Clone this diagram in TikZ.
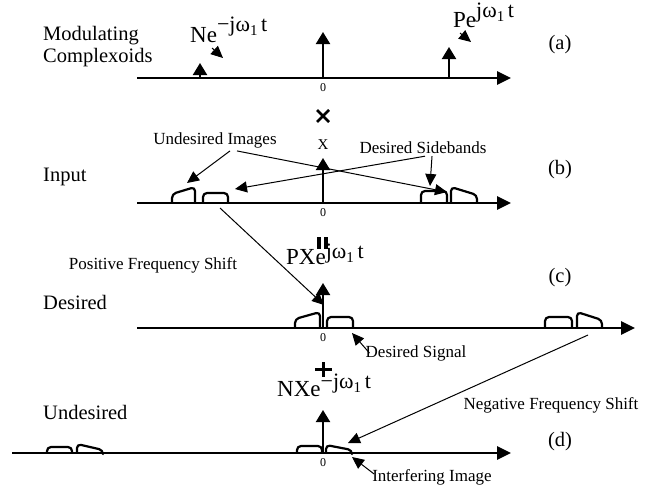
\documentclass[tikz,border=0pt]{standalone}
\usepackage{fontspec}
\setmainfont{Liberation Serif}
\usetikzlibrary{arrows.meta}
\definecolor{ink}{HTML}{000000}
\newcommand{\specbump}[4]{% x1, x2, base, top
  \draw[spec] (#1,#3) -- (#1,#4) -- (#2,#4) -- (#2,#3);
}
\newcommand{\specslope}[5]{% x1, x2, base, left top, right top
  \draw[spec] (#1,#3) -- (#1,#4) -- (#2,#5) -- (#2,#3);
}
\newcommand{\cplx}[3][9pt]{#2e\raisebox{#1}{\fontsize{22}{23}\selectfont #3jω\raisebox{-4.5pt}{\fontsize{15}{16}\selectfont 1}\,t}}

\begin{document}
\begin{tikzpicture}[x=1pt,y=-1pt,line join=round,
  axis/.style={ink,line width=2.6pt,-{Triangle[length=14pt,width=13pt]}},
  stem/.style={ink,line width=2pt,-{Triangle[length=12pt,width=14pt]}},
  lbl/.style={ink,line width=1pt,-{Triangle[length=12pt,width=11pt]}},
  spec/.style={ink,line width=2.2pt,rounded corners=4pt},
  big/.style={text=ink,font=\fontsize{20.5}{22}\selectfont,inner sep=0pt},
  mid/.style={text=ink,font=\fontsize{17}{19}\selectfont,inner sep=0pt},
  tiny/.style={text=ink,font=\fontsize{12}{13}\selectfont,inner sep=0pt},
  expo/.style={text=ink,font=\fontsize{23}{25}\selectfont,inner sep=0pt,anchor=base west}]
  \path[use as bounding box] (0,0) rectangle (660,488);
  \fill[white] (0,0) rectangle (660,488);

  % row labels
  \node[big,anchor=west,align=left] (modlab) at (43,47) {Modulating\\Complexoids};
  \node[big,anchor=west] (inlab) at (43,177) {Input};
  \node[big,anchor=west] (deslab) at (43,302) {Desired};
  \node[big,anchor=west] (undlab) at (43,412) {Undesired};
  \foreach \t/\y [count=\k] in {a/45,b/170,c/278,d/442}
    \node[big] (tag\k) at (560,\y) {(\t)};

  % axes
  \foreach \n/\xa/\xb/\y in {A/137/511/78,B/137/511/203,C/137/635/328,D/12/511/453}{
    \coordinate (ax\n) at (\xa,\y);
    \coordinate (ax\n end) at (\xb,\y);
    \draw[axis] (ax\n) -- (ax\n end);
  }
  \foreach \y [count=\k] in {88,213,338,463}
    \node[tiny] (zero\k) at (323,\y) {0};

  % (a) modulating complexoids
  \draw[stem] (323,78) -- (323,32);
  \draw[stem] (200,78) -- (200,63);
  \draw[stem] (449,78) -- (449,47);
  \node[expo] (nexp) at (190,42) {\cplx[11pt]{N}{−}};
  \node[expo] (pexp) at (453,27) {\cplx[10pt]{P}{}};
  \coordinate (ntail) at (212,48);
  \coordinate (ntip) at (223,58);
  \coordinate (ptail) at (460,33);
  \coordinate (ptip) at (471,42);
  \draw[lbl] (ntail) -- (ntip);
  \draw[lbl] (ptail) -- (ptip);

  % times
  \draw[ink,line width=2.5pt] (317,110) -- (329,122) (317,122) -- (329,110);

  % (b) input
  \draw[stem] (323,203) -- (323,158);
  \node[text=ink,font=\fontsize{15}{16}\selectfont,inner sep=0pt] (xlab) at (323,145) {X};
  \specslope{172}{195}{203}{194}{187}
  \specbump{203}{228}{203}{193}
  \specbump{421}{447}{203}{191}
  \specslope{451}{477}{203}{187}{195}
  \node[mid] (undimg) at (215,140) {Undesired Images};
  \node[mid] (dessb) at (423,148) {Desired Sidebands};
  \coordinate (undL) at (187,183);
  \coordinate (undR) at (447,192);
  \coordinate (dsbL) at (235,189);
  \coordinate (dsbR) at (430,186);
  \draw[lbl] ([xshift=15pt,yshift=-3pt]undimg.south) -- (undL);
  \draw[lbl] ([xshift=22pt,yshift=-3pt]undimg.south) -- (undR);
  \draw[lbl] ([xshift=2pt,yshift=-2pt]dessb.south) -- (dsbL);
  \draw[lbl] ([xshift=9pt,yshift=-2pt]dessb.south) -- (dsbR);

  % equals
  \fill[ink] (317,237) rectangle (321,249);
  \fill[ink] (324,237) rectangle (328,249);

  % (c) desired
  \node[expo] (pxexp) at (286,264) {\cplx[6pt]{PX}{}};
  \node[mid] (posfs) at (153,265) {Positive Frequency Shift};
  \draw[stem] (323,328) -- (323,283);
  \specslope{295}{320}{328}{319}{312}
  \specbump{327}{353}{328}{317}
  \specbump{545}{572}{328}{317}
  \specslope{577}{602}{328}{312}{320}
  \coordinate (shiftB) at (220,208);
  \coordinate (shiftBtip) at (324,305);
  \draw[lbl] (shiftB) -- (shiftBtip);
  \node[mid] (dsig) at (416,353) {Desired Signal};
  \coordinate (dsigtip) at (352,333);
  \draw[lbl] ([xshift=4pt,yshift=-8pt]dsig.north west) -- (dsigtip);

  % plus
  \fill[ink] (315,367.5) rectangle (332,370.5);
  \fill[ink] (321.5,362) rectangle (324.5,377);

  % (d) undesired
  \node[expo] (nxexp) at (277,396) {\cplx[8pt]{NX}{−}};
  \node[mid] (negfs) at (551,405) {Negative Frequency Shift};
  \draw[stem] (323,453) -- (323,410);
  \specbump{47}{72}{453}{447}
  \specslope{77}{103}{453}{444}{450}
  \specbump{297}{322}{453}{446}
  \specslope{326}{352}{453}{445}{450}
  \coordinate (shiftC) at (588,335);
  \coordinate (shiftCtip) at (348,443);
  \draw[lbl] (shiftC) -- (shiftCtip);
  \node[mid] (intimg) at (432,477) {Interfering Image};
  \coordinate (intimgtip) at (352,457);
  \draw[lbl] ([xshift=2pt,yshift=-5pt]intimg.north west) -- (intimgtip);
\end{tikzpicture}
\end{document}
